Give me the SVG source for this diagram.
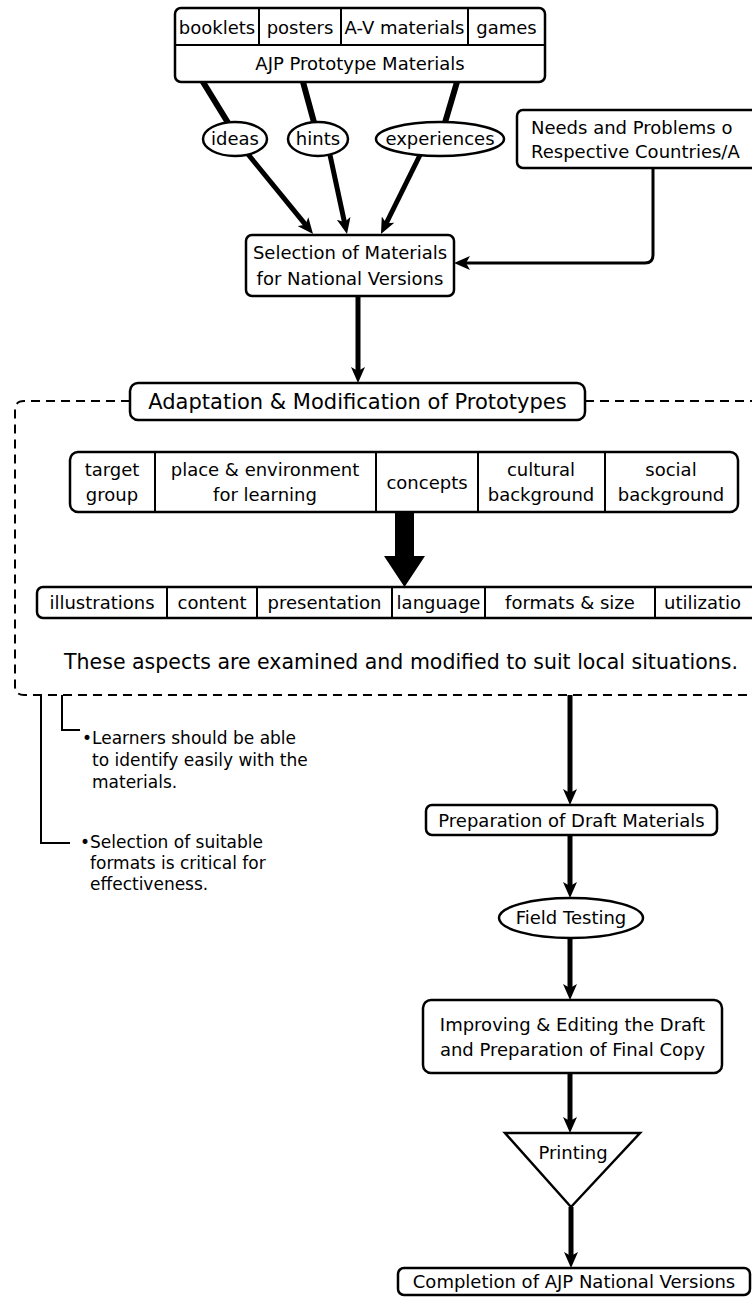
<svg xmlns="http://www.w3.org/2000/svg" width="752" height="1297" viewBox="0 0 752 1297">
<style>
.box{fill:#fff;stroke:#000;stroke-width:2.5}
.t{font-family:"DejaVu Sans",sans-serif;font-size:18px;fill:#000;text-anchor:middle}
.tl{text-anchor:start}
.thick{stroke:#000;stroke-width:6;fill:none;stroke-linecap:round}
.flow{stroke:#000;stroke-width:5;fill:none;marker-end:url(#ah)}
.side{stroke:#000;stroke-width:3;fill:none;marker-end:url(#ah)}
.dash{stroke:#000;stroke-width:2;stroke-dasharray:9 6;fill:none}
.thin{stroke:#000;stroke-width:2;fill:none}
.div{stroke:#000;stroke-width:2}
</style>
<defs>
<marker id="ah" viewBox="0 0 16 14" markerWidth="16" markerHeight="14" refX="6" refY="7" orient="auto" markerUnits="userSpaceOnUse">
<path d="M0,0 L16,7 L0,14 L4,7 z" fill="#000"/>
</marker>
</defs>
<rect width="752" height="1297" fill="#fff"/>

<g id="connectors">
<line class="thick" x1="203" y1="82" x2="230" y2="126"/>
<line class="thick" x1="303" y1="82" x2="315" y2="126"/>
<line class="thick" x1="457" y1="82" x2="444" y2="126"/>
<line class="flow" x1="247" y1="153" x2="306.7" y2="226.2"/>
<line class="flow" x1="330" y1="155" x2="344.9" y2="224.2"/>
<line class="flow" x1="420" y1="155" x2="385.4" y2="225"/>
<path class="side" d="M653,168 V255 Q653,263 645,263 H464"/>
<line class="flow" x1="358" y1="296" x2="358" y2="373"/>
<path class="dash" d="M130,401 H24 Q15,401 15,410 V686 Q15,695 24,695 H752"/>
<path class="dash" d="M585,401 H752"/>
<polygon points="395,512 414,512 414,556 425,556 404.5,587 384,556 395,556" fill="#000"/>
<line class="flow" x1="570" y1="695" x2="570" y2="795"/>
<line class="flow" x1="570" y1="835" x2="570" y2="888"/>
<line class="flow" x1="570" y1="938" x2="570" y2="990"/>
<line class="flow" x1="570" y1="1073" x2="570" y2="1123"/>
<line class="flow" x1="571" y1="1207" x2="571" y2="1258"/>
<path class="thin" d="M62,695 V730 H80"/>
<path class="thin" d="M41,695 V843 H70"/>
</g>

<g id="prototype-materials">
<rect class="box" x="175" y="8" width="370" height="74" rx="6"/>
<line class="div" x1="175" y1="45" x2="545" y2="45"/>
<line class="div" x1="259" y1="8" x2="259" y2="45"/>
<line class="div" x1="341" y1="8" x2="341" y2="45"/>
<line class="div" x1="468" y1="8" x2="468" y2="45"/>
<text class="t" x="217" y="34">booklets</text>
<text class="t" x="300" y="34">posters</text>
<text class="t" x="404.5" y="34">A-V materials</text>
<text class="t" x="506.5" y="34">games</text>
<text class="t" x="360" y="70">AJP Prototype Materials</text>
</g>

<g id="ideas">
<ellipse class="box" cx="235" cy="139" rx="32" ry="17"/>
<text class="t" x="235" y="145">ideas</text>
</g>
<g id="hints">
<ellipse class="box" cx="318" cy="139" rx="30" ry="17"/>
<text class="t" x="318" y="145">hints</text>
</g>
<g id="experiences">
<ellipse class="box" cx="440" cy="139" rx="64" ry="17"/>
<text class="t" x="440" y="145">experiences</text>
</g>

<g id="needs">
<rect class="box" x="517" y="110" width="260" height="58" rx="6"/>
<text class="t tl" x="531" y="134">Needs and Problems o</text>
<text class="t tl" x="531" y="158">Respective Countries/A</text>
</g>

<g id="selection">
<rect class="box" x="246" y="235" width="208" height="61" rx="6"/>
<text class="t" x="350" y="259">Selection of Materials</text>
<text class="t" x="350" y="285">for National Versions</text>
</g>

<g id="adaptation">
<rect class="box" x="130" y="383" width="455" height="37" rx="8"/>
<text class="t" x="357.5" y="409" style="font-size:21px">Adaptation &amp; Modification of Prototypes</text>
</g>

<g id="factors">
<rect class="box" x="70" y="452" width="668" height="60" rx="8"/>
<line class="div" x1="155" y1="452" x2="155" y2="512"/>
<line class="div" x1="376" y1="452" x2="376" y2="512"/>
<line class="div" x1="478" y1="452" x2="478" y2="512"/>
<line class="div" x1="605" y1="452" x2="605" y2="512"/>
<text class="t" x="112" y="476">target</text>
<text class="t" x="112" y="501">group</text>
<text class="t" x="265" y="476">place &amp; environment</text>
<text class="t" x="265" y="501">for learning</text>
<text class="t" x="427" y="489">concepts</text>
<text class="t" x="541" y="476">cultural</text>
<text class="t" x="541" y="501">background</text>
<text class="t" x="671" y="476">social</text>
<text class="t" x="671" y="501">background</text>
</g>

<g id="aspects">
<rect class="box" x="37" y="587" width="740" height="31" rx="6"/>
<line class="div" x1="167" y1="587" x2="167" y2="618"/>
<line class="div" x1="257" y1="587" x2="257" y2="618"/>
<line class="div" x1="392" y1="587" x2="392" y2="618"/>
<line class="div" x1="485" y1="587" x2="485" y2="618"/>
<line class="div" x1="655" y1="587" x2="655" y2="618"/>
<text class="t" x="102" y="609">illustrations</text>
<text class="t" x="212" y="609">content</text>
<text class="t" x="324.5" y="609">presentation</text>
<text class="t" x="438.5" y="609">language</text>
<text class="t" x="570" y="609">formats &amp; size</text>
<text class="t tl" x="664" y="609">utilizatio</text>
</g>

<g id="caption">
<text class="t" x="401" y="669" style="font-size:20.5px">These aspects are examined and modified to suit local situations.</text>
</g>

<g id="note1">
<text class="t tl" x="82" y="744" style="font-size:17px">•Learners should be able</text>
<text class="t tl" x="92" y="766" style="font-size:17px">to identify easily with the</text>
<text class="t tl" x="92" y="788" style="font-size:17px">materials.</text>
</g>
<g id="note2">
<text class="t tl" x="80" y="848" style="font-size:17px">•Selection of suitable</text>
<text class="t tl" x="90" y="869" style="font-size:17px">formats is critical for</text>
<text class="t tl" x="90" y="890" style="font-size:17px">effectiveness.</text>
</g>

<g id="draft">
<rect class="box" x="426" y="805" width="291" height="30" rx="6"/>
<text class="t" x="571.5" y="827">Preparation of Draft Materials</text>
</g>

<g id="field-testing">
<ellipse class="box" cx="571" cy="918" rx="72" ry="20"/>
<text class="t" x="571" y="924">Field Testing</text>
</g>

<g id="improving">
<rect class="box" x="423" y="1000" width="299" height="73" rx="8"/>
<text class="t" x="572.5" y="1031">Improving &amp; Editing the Draft</text>
<text class="t" x="572.5" y="1056">and Preparation of Final Copy</text>
</g>

<g id="printing">
<polygon class="box" points="505,1133 640,1133 571,1207"/>
<text class="t" x="573" y="1159">Printing</text>
</g>

<g id="completion">
<rect class="box" x="398" y="1268" width="352" height="27" rx="6"/>
<text class="t" x="574" y="1288">Completion of AJP National Versions</text>
</g>
</svg>
